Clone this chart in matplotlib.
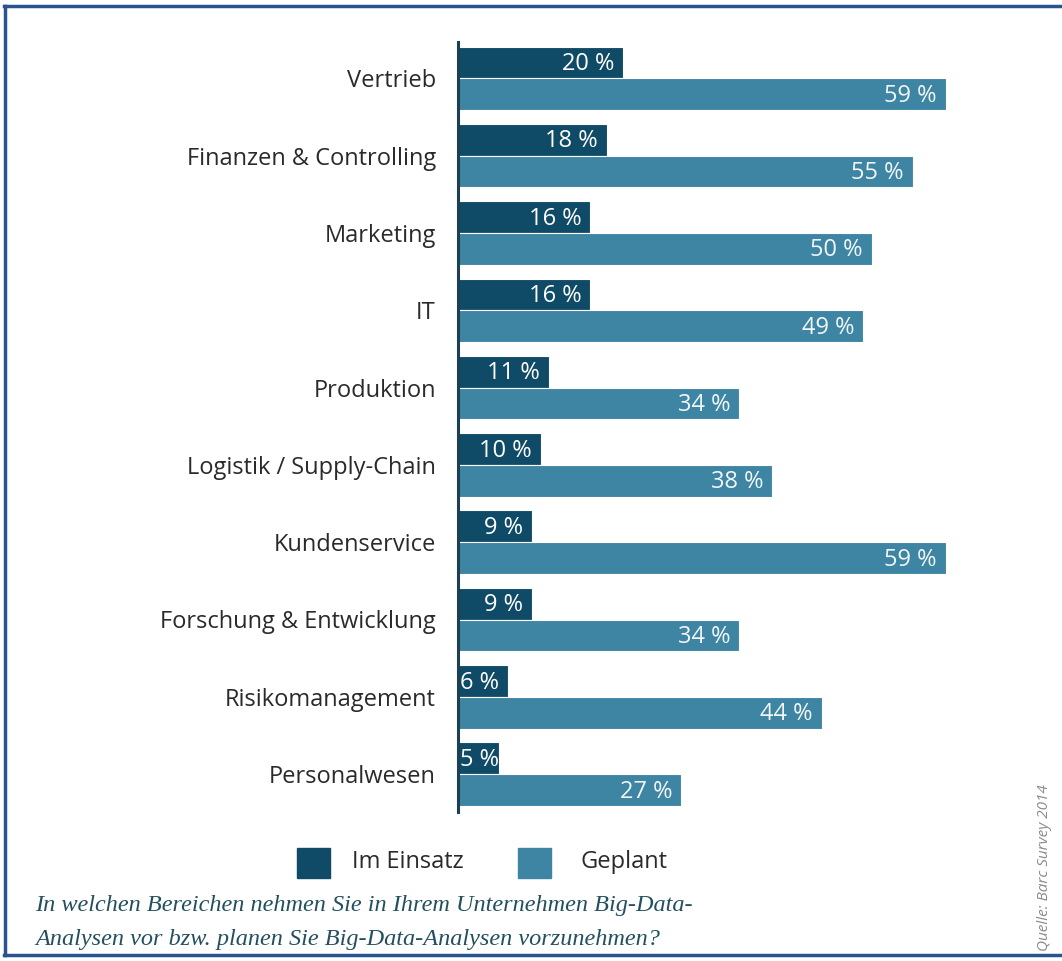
import numpy as np
import matplotlib
matplotlib.use('Agg')
import matplotlib.pyplot as plt
from matplotlib.patches import Rectangle
from matplotlib.lines import Line2D

plt.rcParams['font.family'] = ['Open Sans', 'DejaVu Sans']

# data
bereiche = ['Vertrieb', 'Finanzen & Controlling', 'Marketing', 'IT', 'Produktion',
            'Logistik / Supply-Chain', 'Kundenservice', 'Forschung & Entwicklung',
            'Risikomanagement', 'Personalwesen']
im_einsatz = [20, 18, 16, 16, 11, 10, 9, 9, 6, 5]
geplant = [59, 55, 50, 49, 34, 38, 59, 34, 44, 27]

dunkel = '#0f4a66'
hell = '#3d85a3'
rahmen = '#2a5490'

W, H = 1062, 961
fig = plt.figure(figsize=(W / 100, H / 100), dpi=100)

# axes: left edge = bar origin
ax = fig.add_axes([458 / W, 1 - 812 / H, (1037 - 458) / W, (812 - 42) / H])
y = np.arange(len(bereiche))
h = 0.41
ax.barh(y - h / 2, im_einsatz, height=h, color=dunkel, edgecolor='white', linewidth=0.8)
ax.barh(y + h / 2, geplant, height=h, color=hell, edgecolor='white', linewidth=0.8)
ax.set_xlim(0, 70)
ax.set_ylim(9.49, -0.47)

for i in range(len(bereiche)):
    # kurze balken: text links buendig
    if im_einsatz[i] < 8:
        ax.text(0.3, y[i] - h / 2 + 0.02, f'{im_einsatz[i]} %', color='white',
                ha='left', va='center', fontsize=17)
    else:
        ax.text(im_einsatz[i] - 1.1, y[i] - h / 2 + 0.02, f'{im_einsatz[i]} %', color='white',
                ha='right', va='center', fontsize=17)
    ax.text(geplant[i] - 1.1, y[i] + h / 2 + 0.02, f'{geplant[i]} %', color='#f2f6f8',
            ha='right', va='center', fontsize=17)

ax.set_yticks(y)
ax.set_yticklabels(bereiche, fontsize=17, color='#2a2a2a')
ax.tick_params(axis='y', length=0, pad=16)
ax.set_xticks([])
for s in ['top', 'right', 'bottom']:
    ax.spines[s].set_visible(False)
ax.spines['left'].set_color('#1d3f52')
ax.spines['left'].set_linewidth(2.2)

# legend by hand
fig.patches.append(Rectangle((297 / W, 1 - 878 / H), 33 / W, 30 / H, color=dunkel,
                             transform=fig.transFigure))
fig.text(352 / W, 1 - 862 / H, 'Im Einsatz', fontsize=17, color='#2a2a2a', va='center')
fig.patches.append(Rectangle((518 / W, 1 - 878 / H), 33 / W, 30 / H, color=hell,
                             transform=fig.transFigure))
fig.text(580 / W, 1 - 862 / H, 'Geplant', fontsize=17, color='#2a2a2a', va='center')

# frage
frage = ['In welchen Bereichen nehmen Sie in Ihrem Unternehmen Big-Data-',
         'Analysen vor bzw. planen Sie Big-Data-Analysen vorzunehmen?']
fig.text(35 / W, 1 - 905 / H, frage[0], fontsize=17.5, style='italic', color='#234f5e',
         family='Liberation Serif', va='center')
fig.text(35 / W, 1 - 940 / H, frage[1], fontsize=17.5, style='italic', color='#234f5e',
         family='Liberation Serif', va='center')

fig.text(1045 / W, 1 - 868 / H, 'Quelle: Barc Survey 2014', rotation=90, fontsize=11,
         style='italic', color='#8a8a8a', ha='center', va='center')

# rahmen oben, links, unten
fig.lines.append(Line2D([4 / W, 1], [1 - 6 / H, 1 - 6 / H], color=rahmen, lw=2.5,
                        transform=fig.transFigure))
fig.lines.append(Line2D([5 / W, 5 / W], [1 - 6 / H, 1 - 955 / H], color=rahmen, lw=2.5,
                        transform=fig.transFigure))
fig.lines.append(Line2D([4 / W, 1], [1 - 955 / H, 1 - 955 / H], color=rahmen, lw=2.5,
                        transform=fig.transFigure))

fig.savefig('out.png', dpi=100)
